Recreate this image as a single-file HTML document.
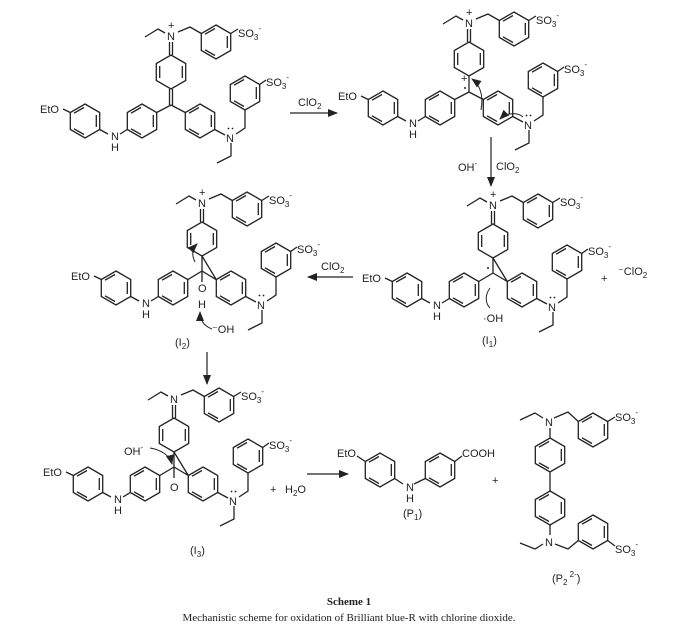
<!DOCTYPE html>
<html><head><meta charset="utf-8"><style>
html,body{margin:0;padding:0;background:#fff;}
svg{display:block;}
text{font-family:"Liberation Sans",sans-serif;font-size:11px;fill:#222;}
.cap{font-family:"Liberation Serif",serif;}
</style></head><body>
<svg width="697" height="627" viewBox="0 0 697 627" xmlns="http://www.w3.org/2000/svg">
<defs>
<marker id="ah" markerWidth="10" markerHeight="8" refX="9" refY="4" orient="auto" markerUnits="userSpaceOnUse">
<path d="M0,0 L10,4 L0,8 Z" fill="#222"/></marker>
<g id="bz" fill="none" stroke="#222" stroke-width="1.3">
<polygon points="0,-17 14.7,-8.5 14.7,8.5 0,17 -14.7,8.5 -14.7,-8.5"/>
<path d="M11.3,-6 V6 M-1,13.5 L-11,7.8 M-11,-7.8 L-1,-13.5"/>
</g>
<g id="qd" fill="none" stroke="#222" stroke-width="1.3">
<polygon points="0,-17 14.7,-8.5 14.7,8.5 0,17 -14.7,8.5 -14.7,-8.5"/>
<path d="M11.3,-6 V6 M-11.3,-6 V6"/>
</g>
<g id="core">
<use href="#bz" transform="translate(85,121)"/>
<use href="#bz" transform="translate(142,121)"/>
<use href="#bz" transform="translate(200,121)"/>
<use href="#bz" transform="translate(216,42)"/>
<use href="#bz" transform="translate(245,93)"/>
<use href="#qd" transform="translate(171,72)"/>
<path fill="none" stroke="#222" stroke-width="1.3" d="M63,109 L70.3,112.5 M99.7,129.5 L108,134 M120,134 L127.3,129.5 M169.5,55 V42 M172.5,55 V42 M165,33 L158,29 L145,37 M178,32 L190,27 L201.3,33.5 M230.7,33.5 L238,29 M214.7,129.5 L225,135 M231,143 L231,156 L217,163 M236,134 L245,128 V110 M259.7,84.5 L266,80"/>
<text x="40" y="113">EtO</text>
<text x="111" y="140">N</text><text x="111" y="151">H</text>
<text x="167" y="40">N</text><text x="168" y="29" font-size="9">+</text>
<text x="238" y="37">SO<tspan font-size="8" dy="3">3</tspan><tspan font-size="8" dy="-9">-</tspan></text>
<text x="266" y="86">SO<tspan font-size="8" dy="3">3</tspan><tspan font-size="8" dy="-9">-</tspan></text>
<text x="226" y="142">N</text>
<circle cx="228.5" cy="128.5" r="0.9" fill="#222"/><circle cx="232.5" cy="128.5" r="0.9" fill="#222"/>
</g>
</defs>

<!-- A -->
<use href="#core"/>
<path fill="none" stroke="#222" stroke-width="1.3" d="M169.5,89 V105 M172.5,89 V105 M171,105 L156.7,112.5 M171,105 L185.3,112.5"/>

<!-- B -->
<use href="#core" transform="translate(298,-13)"/>
<path fill="none" stroke="#222" stroke-width="1.3" d="M469,76 V92 M469,92 L454.7,99.5 M469,92 L483.3,99.5"/>
<text x="461" y="82" font-size="9">+</text><circle cx="465" cy="88" r="1" fill="#222"/>
<path fill="none" stroke="#222" stroke-width="1" d="M481,110 C484,94 479,84 472,79" marker-end="url(#ah)"/>
<path fill="none" stroke="#222" stroke-width="1" d="M523,117 C516,111 505,114 500,119" marker-end="url(#ah)"/>

<!-- C -->
<use href="#core" transform="translate(322,169)"/>
<path fill="none" stroke="#222" stroke-width="1.3" d="M493,258 V273 M493,273 L478.7,281.5 M493,258 L507.3,281.5 M493,273 L507.3,281.5"/>
<circle cx="488" cy="268" r="1" fill="#222"/>
<path fill="none" stroke="#222" stroke-width="1" d="M490,288 C484,296 486,304 490,308"/>
<text x="483" y="322">·OH</text>
<text x="482" y="344">(I<tspan font-size="8" dy="3">1</tspan><tspan dy="-3">)</tspan></text>
<text x="601" y="282">+</text>
<text x="618" y="275">⁻ClO<tspan font-size="8" dy="3">2</tspan></text>

<!-- D -->
<use href="#core" transform="translate(31,167)"/>
<path fill="none" stroke="#222" stroke-width="1.3" d="M202,256 V271 M202,271 L187.7,279.7 M202,256 L216.3,279.7 M202,271 L216.3,279.7 M202,271 V282"/>
<text x="198" y="292">O</text><text x="198" y="308">H</text>
<text x="212" y="333">⁻OH</text>
<path fill="none" stroke="#222" stroke-width="1" d="M212,329 C204,326 200,320 200,312" marker-end="url(#ah)"/>
<path fill="none" stroke="#222" stroke-width="1" d="M195,262 C191,254 193,248 197,244" marker-end="url(#ah)"/>
<text x="175" y="346">(I<tspan font-size="8" dy="3">2</tspan><tspan dy="-3">)</tspan></text>

<!-- E -->
<use href="#core" transform="translate(3,363)"/>
<rect x="169" y="384" width="10" height="10" fill="#fff"/>
<path fill="none" stroke="#222" stroke-width="1.3" d="M174,452 V467 M174,467 L159.7,475.5 M174,452 L188.3,475.5 M174,467 L188.3,475.5 M174,467 V478"/>
<text x="170" y="491">O</text>
<text x="124" y="455">OH<tspan font-size="8" dy="-5">-</tspan></text>
<path fill="none" stroke="#222" stroke-width="1" d="M150,448 C162,450 170,456 172,464" marker-end="url(#ah)"/>
<text x="190" y="554">(I<tspan font-size="8" dy="3">3</tspan><tspan dy="-3">)</tspan></text>
<text x="270" y="493">+</text>
<text x="285" y="493">H<tspan font-size="8" dy="3">2</tspan><tspan dy="-3">O</tspan></text>

<!-- arrows -->
<g stroke="#222" stroke-width="1.2" fill="none">
<line x1="290" y1="113" x2="337" y2="113" marker-end="url(#ah)"/>
<line x1="491" y1="137" x2="491" y2="186" marker-end="url(#ah)"/>
<line x1="353" y1="277" x2="308" y2="277" marker-end="url(#ah)"/>
<line x1="207" y1="352" x2="207" y2="384" marker-end="url(#ah)"/>
<line x1="307" y1="474" x2="348" y2="474" marker-end="url(#ah)"/>
</g>
<text x="298" y="106">ClO<tspan font-size="8" dy="3">2</tspan></text>
<text x="458" y="171">OH<tspan font-size="8" dy="-5">-</tspan></text>
<text x="496" y="170">ClO<tspan font-size="8" dy="3">2</tspan></text>
<text x="321" y="270">ClO<tspan font-size="8" dy="3">2</tspan></text>

<!-- P1 -->
<use href="#bz" transform="translate(380,470)"/>
<use href="#bz" transform="translate(440,470)"/>
<path fill="none" stroke="#222" stroke-width="1.3" d="M357,456 L365.3,461.5 M394.7,478.5 L403,484 M414,484 L425.3,478.5 M454.7,461.5 L462,456"/>
<text x="337" y="457">EtO</text>
<text x="406" y="491">N</text><text x="406" y="502">H</text>
<text x="462" y="457">COOH</text>
<text x="403" y="517">(P<tspan font-size="8" dy="3">1</tspan><tspan dy="-3">)</tspan></text>
<text x="492" y="484" font-size="16">+</text>

<!-- P2 -->
<use href="#bz" transform="translate(550,455)"/>
<use href="#bz" transform="translate(550,508)"/>
<use href="#bz" transform="translate(593,430)"/>
<use href="#bz" transform="translate(593,532)"/>
<path fill="none" stroke="#222" stroke-width="1.3" d="M550,438 V428 M550,472 V491 M550,525 V535 M543,418 L535,413 L520,420 M554,418 L568,412 L578.3,421.5 M607.7,421.5 L615,417 M543,544 L535,549 L520,543 M555,544 L568,549 L578.3,540.5 M607.7,540.5 L615,546"/>
<text x="545" y="426">N</text>
<text x="545" y="546">N</text>
<text x="615" y="421">SO<tspan font-size="8" dy="3">3</tspan><tspan font-size="8" dy="-9">-</tspan></text>
<text x="615" y="553">SO<tspan font-size="8" dy="3">3</tspan><tspan font-size="8" dy="-9">-</tspan></text>
<text x="552" y="582">(P<tspan font-size="8" dy="3">2</tspan><tspan font-size="8" dy="-8"> 2-</tspan><tspan dy="5">)</tspan></text>

<!-- caption -->
<text class="cap" x="349" y="605" text-anchor="middle" font-weight="bold" font-size="12">Scheme 1</text>
<text class="cap" x="349" y="621" text-anchor="middle" font-size="12">Mechanistic scheme for oxidation of Brilliant blue-R with chlorine dioxide.</text>
</svg>
</body></html>
